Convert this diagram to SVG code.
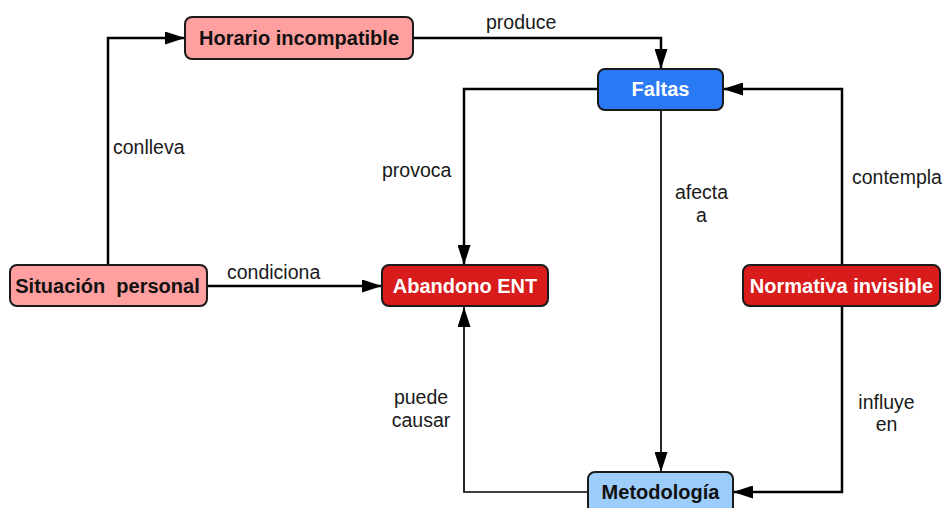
<svg xmlns="http://www.w3.org/2000/svg" width="946" height="508" viewBox="0 0 946 508">
<style>
.box{stroke:#1a1a1a;stroke-width:2}
.nt{font-family:"Liberation Sans",Arial,sans-serif;font-weight:bold;font-size:20px;text-anchor:middle;white-space:pre}
.lt{font-family:"Liberation Sans",Arial,sans-serif;font-size:19.5px;fill:#1a1a1a}
.c{fill:none;stroke:#000;stroke-width:2.5}
.thin{stroke-width:1.7}
.pink{fill:#ff9f9f}
.red{fill:#d81b1b}
.blue{fill:#2a7af5}
.lblue{fill:#9dcdfb}
</style>
<defs>
<marker id="ah" markerUnits="userSpaceOnUse" markerWidth="20" markerHeight="13" refX="20" refY="6.5" orient="auto">
<path d="M0,0 L20,6.5 L0,13 z" fill="#000"/>
</marker>
</defs>
<rect width="946" height="508" fill="#fff"/>
<g id="connectors">
<path class="c" d="M108 265 V38 H185" marker-end="url(#ah)"/>
<path class="c" d="M413 38 H661 V69" marker-end="url(#ah)"/>
<path class="c" d="M598 89 H464 V265" marker-end="url(#ah)"/>
<path class="c" d="M842 265 V89 H723" marker-end="url(#ah)"/>
<path class="c" d="M207 286 H382" marker-end="url(#ah)"/>
<path class="c thin" d="M661 110 V472" marker-end="url(#ah)"/>
<path class="c" d="M842 307 V492 H733" marker-end="url(#ah)"/>
<path class="c thin" d="M588 492 H464 V307" marker-end="url(#ah)"/>
<text class="lt" x="486" y="29">produce</text>
<text class="lt" x="113" y="154">conlleva</text>
<text class="lt" x="382" y="177">provoca</text>
<text class="lt" x="701.5" y="199" text-anchor="middle">afecta</text>
<text class="lt" x="701.5" y="222" text-anchor="middle">a</text>
<text class="lt" x="852" y="184">contempla</text>
<text class="lt" x="227" y="279">condiciona</text>
<text class="lt" x="421" y="404" text-anchor="middle">puede</text>
<text class="lt" x="421" y="427" text-anchor="middle">causar</text>
<text class="lt" x="886.5" y="409" text-anchor="middle">influye</text>
<text class="lt" x="886.5" y="431" text-anchor="middle">en</text>
</g>
<g id="horario">
<rect class="box pink" x="185" y="17" width="228" height="42" rx="7"/>
<text class="nt" x="299" y="45" fill="#111">Horario incompatible</text>
</g>
<g id="faltas">
<rect class="box blue" x="598" y="69" width="125" height="41" rx="7"/>
<text class="nt" x="660.5" y="96" fill="#fff">Faltas</text>
</g>
<g id="situacion">
<rect class="box pink" x="10" y="265" width="197" height="41" rx="7"/>
<text class="nt" x="107.5" y="293" fill="#111">Situación  personal</text>
</g>
<g id="abandono">
<rect class="box red" x="382" y="265" width="166" height="41" rx="7"/>
<text class="nt" x="465" y="293" fill="#fff">Abandono ENT</text>
</g>
<g id="normativa">
<rect class="box red" x="743" y="265" width="197" height="41" rx="7"/>
<text class="nt" x="841.5" y="293" fill="#fff">Normativa invisible</text>
</g>
<g id="metodologia">
<rect class="box lblue" x="588" y="472" width="145" height="46" rx="7"/>
<text class="nt" x="660.5" y="499" fill="#111">Metodología</text>
</g>
</svg>
